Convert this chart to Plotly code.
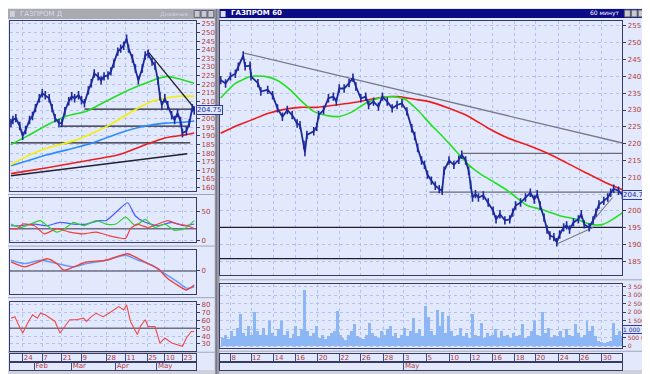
import plotly.graph_objects as go

W, H = 650, 374

# ======================= DATA =======================
# ---- Left window (daily bars, x = day position) ----
l_x = [0,2,5,9,12,15,19,22,25,29,32,35,39,42,45,49,52,55,59,62,65,69,72,75,79,82,85,89,92,95,
       99,102,105,109,112,115,118,120,124,127,130,134,137,140,144,147,150,152,154,157,160,164,167,170,173,175,179,182,185,187]
l_close = [197.4,199.2,200.3,195.7,190.0,193.4,199.2,201.5,206.1,211.8,214.7,213.6,211.8,206.1,200.3,197.4,197.4,204.3,210.1,213.0,
           211.8,213.6,210.7,208.9,216.4,220.5,226.2,224.5,222.2,224.5,225.1,227.4,232.0,238.9,240.6,242.3,246.4,240.6,234.9,229.1,
           222.2,229.1,236.6,237.7,233.1,230.8,222.2,213.0,207.8,211.8,207.8,202.0,199.2,203.2,198.6,191.7,192.8,197.4,206.1,204.75]

l_green_x = [0,17,37,57,77,97,117,137,150,160,170,187]
l_green = [185.0,190.0,196.3,201.5,204.3,210.1,215.8,220.5,223.3,224.5,223.3,220.5]
l_yellow_x = [0,17,37,64,84,104,124,144,157,170,187]
l_yellow = [173.3,178.4,183.0,187.1,191.7,197.4,204.3,210.1,211.8,213.0,213.0]
l_blue_x = [0,17,37,57,77,97,117,137,157,177,187]
l_blue = [172.7,175.6,179.0,181.9,184.8,188.8,192.8,195.7,197.4,198.0,198.6]
l_red_x = [0,37,77,110,137,157,177,187]
l_red = [168.1,171.5,175.6,179.0,184.8,188.8,190.6,191.7]

l_trend_up_x = [0, 180]
l_trend_up = [166.9, 179.6]
l_trend_down_x = [139, 187]
l_trend_down = [239.5, 206.2]
l_hlevels = [185.9, 195.7, 205.5]
l_hstart = [0, 50, 75]
l_hend = [183, 180, 187]

# DMI panel
l_dmi_blue_x = [0,10,24,37,50,64,77,90,97,107,119,127,137,150,164,177,187]
l_dmi_blue = [25,25,28,25,31,28,28,34,34,48,65,42,31,25,31,25,28]
l_dmi_green_x = [0,10,24,30,37,47,55,64,74,87,97,107,117,127,137,147,157,167,177,187]
l_dmi_green = [28,22,31,34,25,14,20,31,25,34,28,28,40,25,36,22,28,17,20,34]
l_dmi_red_x = [0,7,12,24,34,47,60,74,87,100,110,117,122,129,134,140,150,160,170,180,187]
l_dmi_red = [20,20,28,25,11,20,14,11,14,8,4,3,20,28,25,22,28,34,28,25,20]
l_dmi_level = 20

# MACD panel
l_macd_sig_x = [0,14,30,47,64,77,97,117,130,144,157,170,180,187]
l_macd_sig = [10.7,7.3,10.7,7.3,4.0,7.3,10.7,15.7,10.7,5.7,-2.7,-11.0,-17.7,-16.0]
l_macd_x = [0,14,24,37,47,54,64,77,97,119,130,140,150,160,170,179,187]
l_macd = [9.0,4.0,7.3,12.3,7.3,0.7,4.0,9.0,10.7,17.3,12.3,7.3,2.3,-7.7,-14.3,-19.3,-14.3]

# RSI panel
l_rsi_x = [0,4,7,12,17,22,27,30,35,40,45,50,55,60,67,74,77,82,87,94,100,105,110,115,118,122,129,132,137,140,147,152,157,164,170,175,179,184,187]
l_rsi = [63,65,56.6,44,56.6,67.3,63,69.3,67.3,63,58.8,44,52.4,61,61,63,58.8,65,69.3,65,69.3,73.6,77.8,73.6,80,58.8,42,52.4,61,52.4,52.4,31.2,37.6,31.2,29.2,27,37.6,46,46]
l_rsi_level = 50

l_date_pos = [12, 32, 52, 72, 97, 117, 139, 157, 175]
l_date_lbl = ["24", "7", "21", "9", "28", "11", "25", "10", "23"]
l_month_pos = [24, 62, 107, 149]
l_month_lbl = ["Feb", "Mar", "Apr", "May"]

# ---- Right window (hourly bars, x = bar position) ----
r_x = [0,5,10,15,18,23,25,30,31,38,41,48,53,58,63,68,73,78,81,85,86,88,95,98,100,105,110,115,118,121,
       126,131,135,138,143,148,151,156,161,165,170,175,180,185,190,195,198,201,205,208,211,215,219,223,226,228,233,238,243,246,
       250,253,255,257,260,263,268,273,278,281,285,290,295,298,301,306,311,316,320,323,326,330,333,336,340,343,346,350,353,356,
       360,365,368,371,376,380,383,386,391,395,398,401,406,410]
r_close = [238.9,237.9,240.0,240.8,242.9,246.2,243.0,243.2,240.0,238.0,235.5,236.0,234.4,230.5,228.0,230.0,228.5,226.0,225.5,219.6,
           217.5,222.6,223.7,225.0,228.5,230.0,233.5,234.0,232.5,236.4,236.4,238.0,239.6,237.0,233.5,234.0,231.5,232.5,231.0,234.0,
           232.5,230.5,231.5,232.0,229.6,224.6,222.3,218.7,215.0,213.7,210.8,209.0,207.5,206.5,206.0,212.0,215.0,213.7,215.2,216.7,
           215.0,212.0,207.8,204.0,205.0,204.0,204.6,202.5,200.1,197.5,199.0,197.2,197.5,199.5,201.6,202.5,204.0,205.4,203.4,205.0,
           201.6,198.0,194.5,192.7,192.2,190.7,193.0,195.1,195.7,194.5,196.6,197.5,199.0,196.0,195.1,197.2,199.5,201.9,203.0,204.0,
           205.4,206.6,206.0,204.75]

r_green_x = [0,15,31,45,58,71,83,95,108,121,135,148,161,175,188,201,215,226,240,253,266,280,293,313,328,346,363,378,390,400,410]
r_green = [233.6,237.9,240.0,240.0,238.8,236.0,232.5,229.6,228.4,228.1,229.6,232.0,233.5,234.0,233.2,230.0,225.5,222.3,217.8,213.7,
           210.8,208.4,206.0,201.6,200.4,198.6,197.5,196.0,196.0,197.5,199.5]
r_red_x = [0,15,31,48,65,81,98,115,131,148,165,181,198,213,233,253,273,293,313,333,353,373,393,410]
r_red = [223.1,225.2,227.0,229.0,230.2,230.8,230.8,231.4,232.0,232.9,233.8,234.0,233.2,232.5,230.5,228.1,224.6,221.7,219.6,217.2,
         214.3,211.3,208.4,206.3]

r_resist_x = [23, 410]
r_resist = [247.0, 220.2]
r_support1_x = [343, 380]
r_support1 = [190.2, 195.1]
r_support2_x = [376, 400]
r_support2 = [195.7, 204.0]
r_hlevels = [217.1, 205.6, 195.1, 185.8]
r_hstart = [246, 213, -1, -1]
r_hend = [410, 410, 410, 410]
r_hcolor = ["#6a6a78", "#6a6a78", "#1e1e2a", "#1e1e2a"]

r_vol = [500,700,450,900,600,1100,1900,800,600,1200,
         700,2000,900,650,1100,700,1500,800,600,1000,
         1500,700,900,500,750,1200,600,1000,3300,900,
         600,800,1200,500,700,450,600,800,900,2100,
         700,500,400,650,900,1300,600,500,450,700,
         1400,800,600,500,900,700,1000,1200,600,800,
         500,700,1100,600,900,1700,800,1000,600,2400,
         1750,900,700,2150,1200,2000,800,1800,900,600,
         700,1100,600,800,500,1900,700,600,1400,500,
         800,600,700,1000,500,900,600,700,500,800,
         600,700,1300,500,600,900,1500,700,600,2000,
         800,1100,500,700,600,900,500,1000,700,600,
         1300,800,500,700,1500,900,1200,600,300,250,
         200,250,300,1400,700,900,600]  # thousands

r_date_pos = [10, 31, 54, 76, 99, 121, 143, 166, 187, 210, 233, 255, 277, 300, 321, 345, 366, 389]
r_date_lbl = ["8", "12", "14", "16", "20", "22", "26", "28", "3", "5", "10", "12", "16", "18", "20", "24", "26", "30"]
r_month_pos = [187]
r_month_lbl = ["May"]

l_price_ticks = list(range(160, 256, 5))
r_price_ticks = list(range(185, 256, 5))
r_vol_ticks = [0, 500000, 1000000, 1500000, 2000000, 2500000, 3000000, 3500000]
r_vol_ticktext = ["0", "500 000", "1 000 000", "1 500 000", "2 000 000", "2 500 000", "3 000 000", "3 500 000"]
last_price = 204.75
last_vol_mark = 1000000

# ======================= STYLE =======================
FONT = "DejaVu Sans"
TXT = "#b03a3a"
FRAME = "#3a3a66"
GRID = "#b2c1ef"
BG = "#e3e9fc"
BAR = "#1c2a9e"


def dx(a, b):
    return [a / W, b / W]


def dy(top, bottom):
    return [1 - bottom / H, 1 - top / H]


fig = go.Figure()


def line(x, y, ax, color, width=1.5):
    fig.add_trace(go.Scatter(x=x, y=y, xaxis=ax[0], yaxis=ax[1], mode="lines",
                             line=dict(color=color, width=width, shape="spline", smoothing=0.6),
                             hoverinfo="skip", showlegend=False))


def straight(x, y, ax, color, width=1.2):
    fig.add_trace(go.Scatter(x=x, y=y, xaxis=ax[0], yaxis=ax[1], mode="lines",
                             line=dict(color=color, width=width), hoverinfo="skip", showlegend=False))


def price(x, y, ax):
    fig.add_trace(go.Scatter(x=x, y=y, xaxis=ax[0], yaxis=ax[1], mode="lines+markers",
                             line=dict(color=BAR, width=1.8),
                             marker=dict(symbol="line-ns-open", size=6, line=dict(color=BAR, width=1.6)),
                             hoverinfo="skip", showlegend=False))


def label_text(pos, labels, xa, ya):
    fig.add_trace(go.Scatter(x=[p + 1 for p in pos], y=[0.5] * len(pos), xaxis=xa, yaxis=ya,
                             mode="text", text=labels, textposition="middle right",
                             textfont=dict(size=7, color=TXT, family=FONT), hoverinfo="skip", showlegend=False))


L1 = ("x", "y")
L2 = ("x2", "y2")
L3 = ("x3", "y3")
L4 = ("x4", "y4")
R1 = ("x7", "y7")

# ---------- left window ----------
for lv, s, e in zip(l_hlevels, l_hstart, l_hend):
    straight([s, e], [lv, lv], L1, "#222230", 1.3)
straight(l_trend_up_x, l_trend_up, L1, "#222230", 1.5)
line(l_red_x, l_red, L1, "#e82020", 1.6)
line(l_blue_x, l_blue, L1, "#2a8cff", 1.6)
line(l_yellow_x, l_yellow, L1, "#f2f000", 1.6)
line(l_green_x, l_green, L1, "#22dd22", 1.6)
straight(l_trend_down_x, l_trend_down, L1, "#222230", 1.3)
price(l_x, l_close, L1)

straight([-1, 189], [l_dmi_level, l_dmi_level], L2, "#6e6e86", 1.5)
line(l_dmi_blue_x, l_dmi_blue, L2, "#4a5cff", 1.2)
line(l_dmi_green_x, l_dmi_green, L2, "#30d030", 1.2)
line(l_dmi_red_x, l_dmi_red, L2, "#f04040", 1.2)

straight([-1, 189], [0, 0], L3, "#6e6e86", 1.5)
line(l_macd_sig_x, l_macd_sig, L3, "#5a9cff", 1.4)
line(l_macd_x, l_macd, L3, "#f04040", 1.4)

straight([-1, 189], [l_rsi_level, l_rsi_level], L4, "#6e6e86", 1.5)
fig.add_trace(go.Scatter(x=l_rsi_x, y=l_rsi, xaxis="x4", yaxis="y4", mode="lines",
                         line=dict(color="#f04848", width=1.1), hoverinfo="skip", showlegend=False))

label_text(l_date_pos, l_date_lbl, "x5", "y5")
label_text(l_month_pos, l_month_lbl, "x6", "y6")

# ---------- right window ----------
for lv, s, e, c in zip(r_hlevels, r_hstart, r_hend, r_hcolor):
    straight([s, e], [lv, lv], R1, c, 1.3)
straight(r_resist_x, r_resist, R1, "#7a7a8c", 1.3)
straight(r_support1_x, r_support1, R1, "#7a7a8c", 1.1)
straight(r_support2_x, r_support2, R1, "#7a7a8c", 1.1)
line(r_red_x, r_red, R1, "#f01c1c", 1.6)
line(r_green_x, r_green, R1, "#22e022", 1.6)
price(r_x, r_close, R1)

fig.add_trace(go.Bar(x=[1.5 + 3 * i for i in range(len(r_vol))], y=[v * 1000 for v in r_vol],
                     xaxis="x8", yaxis="y8", marker=dict(color="#8cb6f4", line=dict(width=0)),
                     width=3, hoverinfo="skip", showlegend=False))

label_text(r_date_pos, r_date_lbl, "x9", "y9")
label_text(r_month_pos, r_month_lbl, "x10", "y10")

# ======================= AXES =======================
tickfont = dict(size=7, color=TXT, family=FONT)


def xax(domain, rng, tv, anchor, strip=False):
    d = dict(domain=domain, range=rng, anchor=anchor, tickvals=tv, showticklabels=False, ticks="",
             zeroline=False, showline=True, mirror=True, linecolor=FRAME, linewidth=1, fixedrange=True)
    if strip:
        d.update(showgrid=True, gridcolor="#3a4a9a", gridwidth=1)
    else:
        d.update(showgrid=True, gridcolor=GRID, gridwidth=1, griddash="dot")
    return d


def yax(domain, rng, anchor, tv=None, tt=None, size=7):
    d = dict(domain=domain, range=rng, anchor=anchor, side="right", zeroline=False, showline=True, mirror=True,
             linecolor=FRAME, linewidth=1, fixedrange=True, tickfont=dict(tickfont, size=size),
             ticks="outside", ticklen=3, tickcolor=FRAME, showgrid=True, gridcolor=GRID, griddash="dot")
    if tv is None:
        d.update(showticklabels=False, ticks="", showgrid=False, tickvals=[])
    else:
        d.update(tickvals=tv)
        if tt is not None:
            d.update(ticktext=tt)
    return d


# the tick hidden behind the last-value boxes is shown by the box itself
l_price_tt = ["" if v == 205 else str(v) for v in l_price_ticks]
r_price_tt = ["" if v == 205 else str(v) for v in r_price_ticks]
r_vol_tt = ["" if v == last_vol_mark else t for v, t in zip(r_vol_ticks, r_vol_ticktext)]

lx = dx(2, 192)
lrange = [-1, 189]
rx = dx(216, 627)
rrange = [-1, 410]

fig.update_layout(
    xaxis=xax(lx, lrange, l_date_pos, "y"),
    yaxis=yax(dy(12, 183), [158.3, 256.7], "x", l_price_ticks, l_price_tt),
    xaxis2=xax(lx, lrange, l_date_pos, "y2"),
    yaxis2=yax(dy(191, 235), [-3.4, 72.4], "x2", [0, 50]),
    xaxis3=xax(lx, lrange, l_date_pos, "y3"),
    yaxis3=yax(dy(243, 287), [-23, 21], "x3", [0]),
    xaxis4=xax(lx, lrange, l_date_pos, "y4"),
    yaxis4=yax(dy(295, 345), [20.7, 84.2], "x4", [30, 40, 50, 60, 70, 80]),
    xaxis5=xax(lx, lrange, l_date_pos, "y5", strip=True),
    yaxis5=yax(dy(348, 356), [0, 1], "x5"),
    xaxis6=xax(lx, lrange, l_month_pos, "y6", strip=True),
    yaxis6=yax(dy(356, 364), [0, 1], "x6"),
    xaxis7=xax(rx, rrange, r_date_pos, "y7"),
    yaxis7=yax(dy(12, 268), [181.0, 256.5], "x7", r_price_ticks, r_price_tt),
    xaxis8=xax(rx, rrange, r_date_pos, "y8"),
    yaxis8=yax(dy(277, 342), [-117000, 3675000], "x8", r_vol_ticks, r_vol_tt, size=6),
    xaxis9=xax(rx, rrange, r_date_pos, "y9", strip=True),
    yaxis9=yax(dy(348, 356), [0, 1], "x9"),
    xaxis10=xax(rx, rrange, r_month_pos, "y10", strip=True),
    yaxis10=yax(dy(356, 364), [0, 1], "x10"),
)

# ======================= FRAME / DECOR =======================
shapes = []


def rect(x0, y0, x1, y1, fill, line_color=None, lw=0):
    shapes.append(dict(type="rect", xref="paper", yref="paper", x0=x0 / W, x1=x1 / W,
                       y0=1 - y1 / H, y1=1 - y0 / H, fillcolor=fill,
                       line=dict(color=line_color or fill, width=lw), layer="below"))


def hline(x0, x1, y, color, lw=1):
    shapes.append(dict(type="line", xref="paper", yref="paper", x0=x0 / W, x1=x1 / W,
                       y0=1 - y / H, y1=1 - y / H, line=dict(color=color, width=lw), layer="below"))


def vline(x, y0, y1, color, lw=1):
    shapes.append(dict(type="line", xref="paper", yref="paper", x0=x / W, x1=x / W,
                       y0=1 - y1 / H, y1=1 - y0 / H, line=dict(color=color, width=lw), layer="below"))


rect(0, 0, 212, 10, "#a9a9b0")
rect(215, 0, 650, 9, "#0b0b86")
rect(211, 0, 216, 374, "#9a9aa6")
vline(212.5, 0, 374, "#707080", 1)
for yy in [187, 239, 291]:
    hline(0, 211, yy, "#a0a4b8", 1)
hline(216, 650, 273, "#a0a4b8", 1)
hline(216, 650, 345, "#a0a4b8", 1)
hline(0, 211, 346, "#a0a4b8", 1)
rect(0, 364, 211, 369, "#cfd2dc")
rect(216, 364, 650, 369, "#cfd2dc")
rect(0, 369, 650, 374, "#5c5c64")
for bx in [190, 197, 204]:
    rect(bx, 1.5, bx + 6, 8.5, "#c8c8d0", "#606070", 1)
for bx in [629, 636, 643]:
    rect(bx, 1, bx + 6, 8, "#c8c8d0", "#606070", 1)
rect(2, 2, 7, 8, "#d0d0d8")
rect(217, 2, 222, 8, "#e0e0f0")

box = dict(showarrow=False, bgcolor="#dfe6ff", bordercolor="#2a3c9a", borderwidth=1, borderpad=0,
           xanchor="left", yanchor="middle")
annotations = [
    dict(text="ГАЗПРОМ Д", x=10 / W, y=1 - 5 / H, xref="paper", yref="paper", xanchor="left", yanchor="middle",
         showarrow=False, font=dict(size=7, color="#dcdce4", family=FONT)),
    dict(text="Дневные", x=186 / W, y=1 - 5 / H, xref="paper", yref="paper", xanchor="right", yanchor="middle",
         showarrow=False, font=dict(size=6, color="#d0d0d8", family=FONT)),
    dict(text="<b>ГАЗПРОМ 60</b>", x=225 / W, y=1 - 4.5 / H, xref="paper", yref="paper", xanchor="left",
         yanchor="middle", showarrow=False, font=dict(size=7, color="#ffffff", family=FONT)),
    dict(text="60 минут", x=626 / W, y=1 - 4.5 / H, xref="paper", yref="paper", xanchor="right",
         yanchor="middle", showarrow=False, font=dict(size=6, color="#ffffff", family=FONT)),
    dict(box, text=f"{last_price:.2f}", x=1.0, y=last_price, xref="x domain", yref="y",
         font=dict(size=7, color="#1c2a9e", family=FONT)),
    dict(box, text=f"{last_price:.2f}", x=1.0, y=last_price, xref="x7 domain", yref="y7",
         font=dict(size=7, color="#1c2a9e", family=FONT)),
    dict(box, text=r_vol_ticktext[r_vol_ticks.index(last_vol_mark)], x=1.0, y=last_vol_mark,
         xref="x8 domain", yref="y8", font=dict(size=6, color="#1c2a9e", family=FONT)),
]

fig.update_layout(
    width=W, height=H, margin=dict(l=0, r=0, t=0, b=0),
    paper_bgcolor=BG, plot_bgcolor=BG,
    shapes=shapes, annotations=annotations,
    showlegend=False, bargap=0,
    font=dict(family=FONT, size=7, color=TXT),
)

fig.write_html("out.html", config={"displayModeBar": False})
